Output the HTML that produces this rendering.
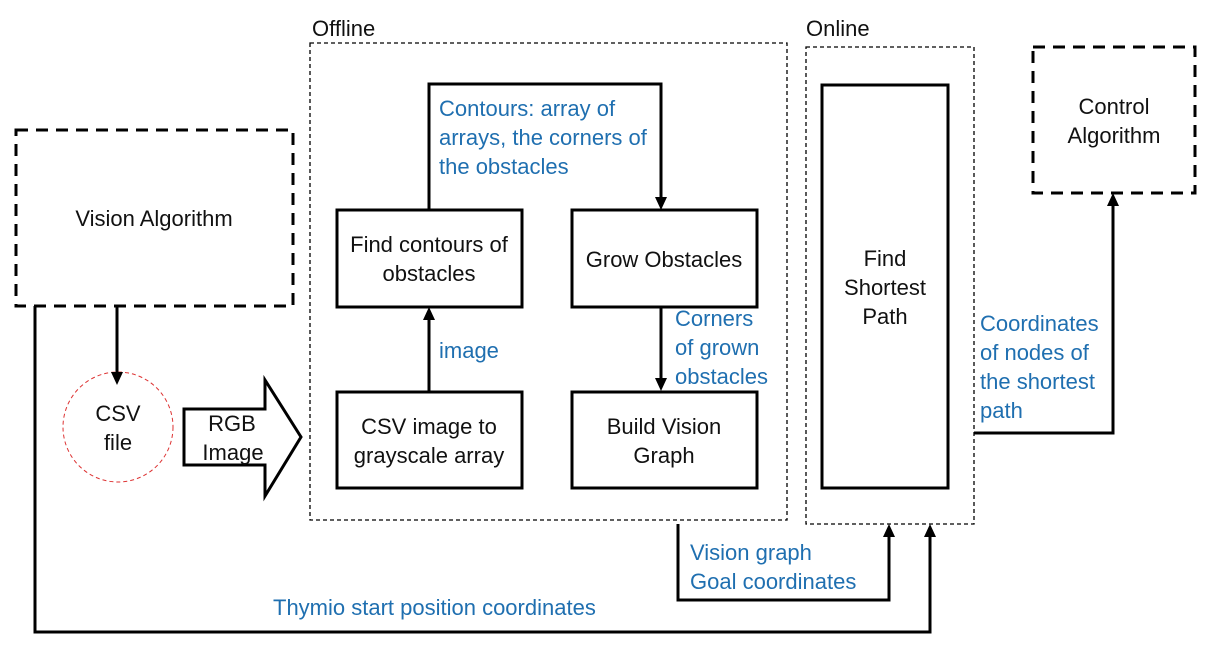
<!DOCTYPE html>
<html><head><meta charset="utf-8"><style>
html,body{margin:0;padding:0;background:#fff;width:1216px;height:661px;overflow:hidden}
svg{display:block}
text{font-family:"Liberation Sans",sans-serif;font-size:22px}
.k{fill:#111}
.b{fill:#1f6fb0}
</style></head><body>
<svg width="1216" height="661" viewBox="0 0 1216 661" xmlns="http://www.w3.org/2000/svg">
<!-- dashed group boxes -->
<rect x="310" y="43" width="477" height="477" fill="none" stroke="#000" stroke-width="1.3" stroke-dasharray="4,3"/>
<rect x="806" y="47" width="168" height="477" fill="none" stroke="#000" stroke-width="1.3" stroke-dasharray="4,3"/>
<text x="312" y="36" class="k">Offline</text>
<text x="806" y="36" class="k">Online</text>
<!-- thick dashed boxes -->
<rect x="16" y="130" width="277" height="176" fill="none" stroke="#000" stroke-width="3" stroke-dasharray="12,8"/>
<rect x="1033" y="47" width="162" height="146" fill="none" stroke="#000" stroke-width="3" stroke-dasharray="12,8"/>
<text x="154" y="226" class="k" text-anchor="middle">Vision Algorithm</text>
<text x="1114" y="114" class="k" text-anchor="middle">Control</text>
<text x="1114" y="143" class="k" text-anchor="middle">Algorithm</text>
<!-- solid boxes -->
<g fill="none" stroke="#000" stroke-width="3">
<rect x="337" y="210" width="185" height="97"/>
<rect x="572" y="210" width="185" height="97"/>
<rect x="337" y="392" width="185" height="96"/>
<rect x="572" y="392" width="185" height="96"/>
<rect x="822" y="85" width="126" height="403"/>
</g>
<text x="429" y="252" class="k" text-anchor="middle">Find contours of</text>
<text x="429" y="281" class="k" text-anchor="middle">obstacles</text>
<text x="664" y="267" class="k" text-anchor="middle">Grow Obstacles</text>
<text x="429" y="434" class="k" text-anchor="middle">CSV image to</text>
<text x="429" y="463" class="k" text-anchor="middle">grayscale array</text>
<text x="664" y="434" class="k" text-anchor="middle">Build Vision</text>
<text x="664" y="463" class="k" text-anchor="middle">Graph</text>
<text x="885" y="266" class="k" text-anchor="middle">Find</text>
<text x="885" y="295" class="k" text-anchor="middle">Shortest</text>
<text x="885" y="324" class="k" text-anchor="middle">Path</text>
<!-- CSV circle -->
<circle cx="118" cy="427" r="55" fill="none" stroke="#d33" stroke-width="1" stroke-dasharray="4,3"/>
<text x="118" y="421" class="k" text-anchor="middle">CSV</text>
<text x="118" y="450" class="k" text-anchor="middle">file</text>
<!-- block arrow -->
<polygon points="184,409 265,409 265,380 301,437 265,496 265,465 184,465" fill="#fff" stroke="#000" stroke-width="3" stroke-linejoin="miter"/>
<text x="232" y="431" class="k" text-anchor="middle">RGB</text>
<text x="233" y="460" class="k" text-anchor="middle">Image</text>
<!-- connectors -->
<g fill="none" stroke="#000" stroke-width="3">
<polyline points="429,210 429,84 661,84 661,198"/>
<line x1="429" y1="392" x2="429" y2="319"/>
<line x1="661" y1="307" x2="661" y2="379"/>
<line x1="117" y1="306" x2="117" y2="374"/>
<polyline points="35,306 35,632 930,632 930,536"/>
<polyline points="678,524 678,600 889,600 889,536"/>
<polyline points="974,433 1113,433 1113,205"/>
</g>
<g fill="#000">
<polygon points="655,197 667,197 661,210"/>
<polygon points="423,320 435,320 429,307"/>
<polygon points="655,378 667,378 661,391"/>
<polygon points="111,372 123,372 117,385"/>
<polygon points="924,537 936,537 930,524"/>
<polygon points="883,537 895,537 889,524"/>
<polygon points="1107,206 1119,206 1113,193"/>
</g>
<!-- blue labels -->
<text x="439" y="116" class="b">Contours: array of</text>
<text x="439" y="145" class="b">arrays, the corners of</text>
<text x="439" y="174" class="b">the obstacles</text>
<text x="439" y="358" class="b">image</text>
<text x="675" y="326" class="b">Corners</text>
<text x="675" y="355" class="b">of grown</text>
<text x="675" y="384" class="b">obstacles</text>
<text x="690" y="560" class="b">Vision graph</text>
<text x="690" y="589" class="b">Goal coordinates</text>
<text x="273" y="615" class="b">Thymio start position coordinates</text>
<text x="980" y="331" class="b">Coordinates</text>
<text x="980" y="360" class="b">of nodes of</text>
<text x="980" y="389" class="b">the shortest</text>
<text x="980" y="418" class="b">path</text>
</svg>
</body></html>
